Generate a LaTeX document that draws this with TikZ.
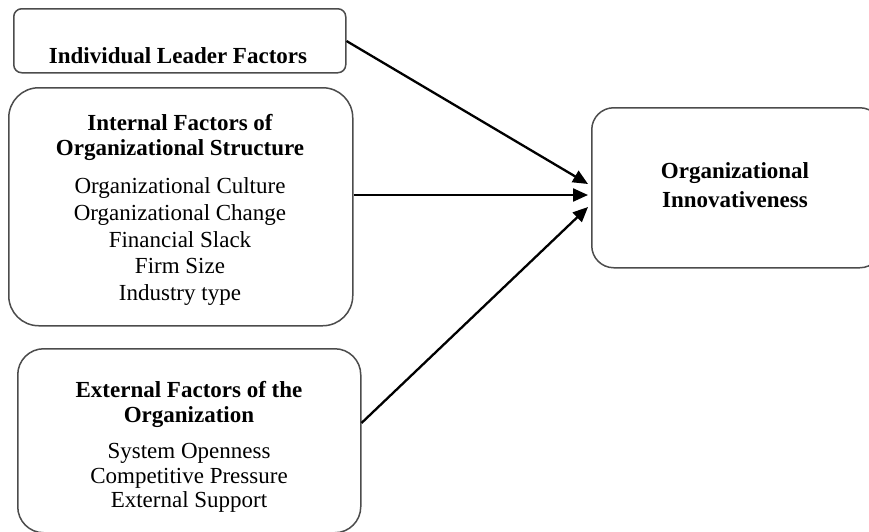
\documentclass[tikz,border=0pt]{standalone}
\usepackage{fontspec}
\setmainfont{Liberation Serif}
\usetikzlibrary{arrows.meta}
\begin{document}
\begin{tikzpicture}[x=1pt,y=-1pt,
  box/.style={draw=black!70, line width=1.5pt, fill=white, anchor=north west, inner sep=0pt},
  hd/.style={anchor=base, inner sep=0pt, font=\fontsize{23}{27}\selectfont\bfseries},
  it/.style={anchor=base, inner sep=0pt, font=\fontsize{23}{27}\selectfont},
  conn/.style={line width=2.3pt, -{Triangle[length=15pt,width=13pt]}}]
\useasboundingbox (0,0) rectangle (869,531);
% boxes
\node[box, minimum width=332pt, minimum height=64pt, rounded corners=8pt] (leader) at (13,8) {};
\node[box, minimum width=344pt, minimum height=238pt, rounded corners=30pt] (internal) at (8,87) {};
\node[box, minimum width=343pt, minimum height=184pt, rounded corners=26pt] (external) at (17,348) {};
\node[box, minimum width=290pt, minimum height=160pt, rounded corners=22pt] (innov) at (591,107) {};
% texts
\node[hd] (t1) at (178,63) {Individual Leader Factors};
\node[hd] (t2a) at (180,130) {Internal Factors of};
\node[hd] (t2b) at (180,155) {Organizational Structure};
\node[it] (t2c) at (180,193) {Organizational Culture};
\node[it] (t2d) at (180,220) {Organizational Change};
\node[it] (t2e) at (180,247) {Financial Slack};
\node[it] (t2f) at (180,273) {Firm Size};
\node[it] (t2g) at (180,300) {Industry type};
\node[hd] (t3a) at (189,397) {External Factors of the};
\node[hd] (t3b) at (189,422) {Organization};
\node[it] (t3c) at (189,458) {System Openness};
\node[it] (t3d) at (189,483) {Competitive Pressure};
\node[it] (t3e) at (189,507) {External Support};
\node[hd] (t4a) at (735,178) {Organizational};
\node[hd] (t4b) at (735,207) {Innovativeness};
% connectors
\coordinate (e1) at (588,184);
\coordinate (e2) at (588,195);
\coordinate (e3) at (588,207);
\draw[conn] (leader.east |- 0,41) -- (e1);
\draw[conn] (internal.east |- 0,195) -- (e2);
\draw[conn] (external.east |- 0,423) -- (e3);
\end{tikzpicture}
\end{document}
